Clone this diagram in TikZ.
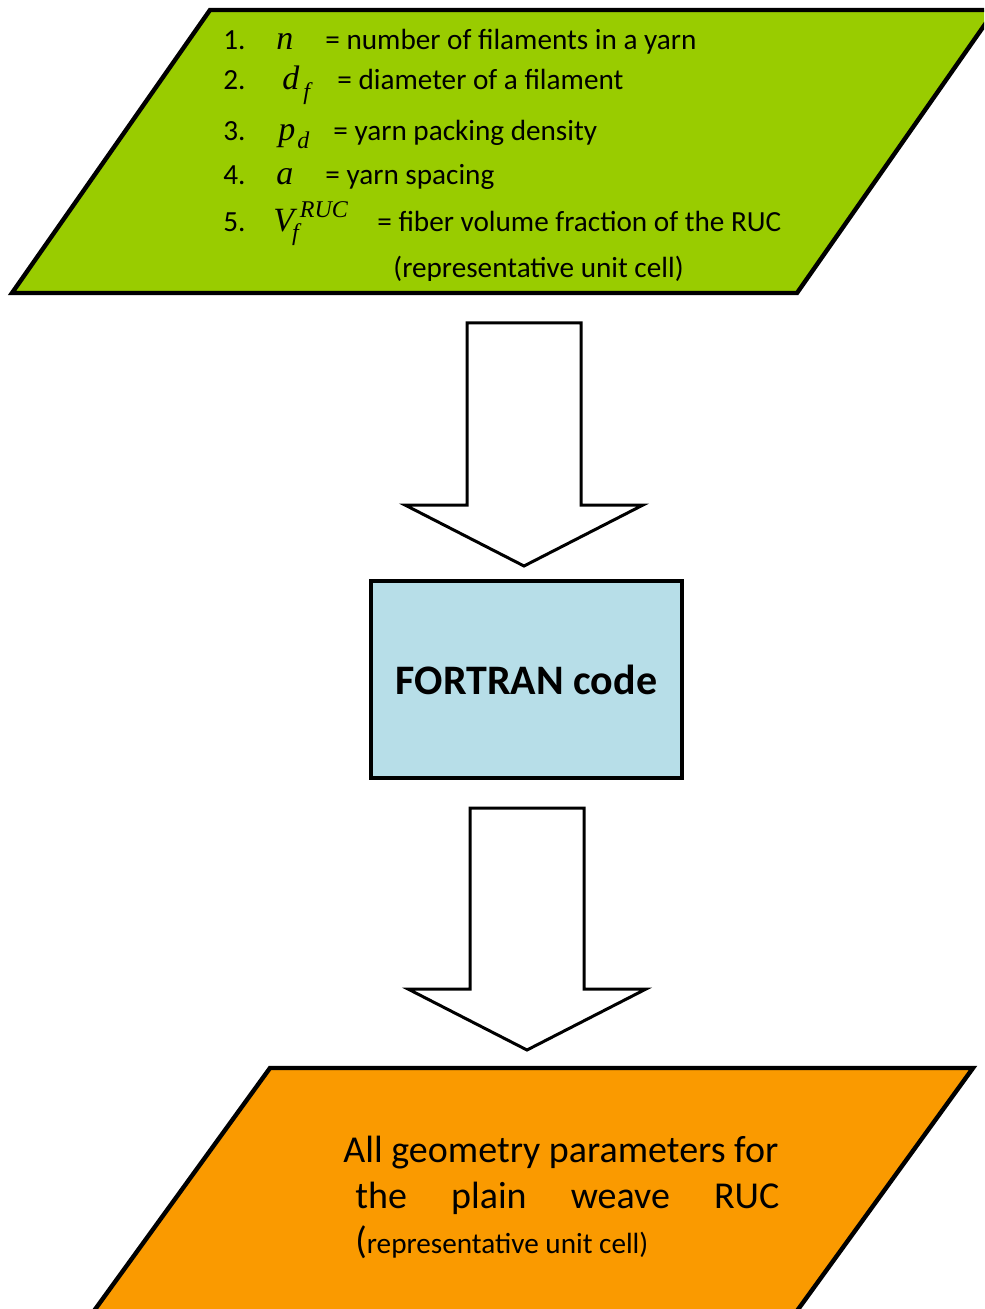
\documentclass[tikz,border=0pt]{standalone}
\usepackage{fontspec}
\setmainfont{Carlito}
\newfontfamily\varfont{Liberation Serif}
\usetikzlibrary{calc}
\definecolor{inputgreen}{HTML}{99CC00}
\definecolor{codeblue}{HTML}{B7DEE8}
\definecolor{outputorange}{HTML}{FA9A00}
\tikzset{
  inputbox/.style={draw=black, fill=inputgreen, line width=2.2pt, line join=miter},
  outputbox/.style={draw=black, fill=outputorange, line width=2.2pt, line join=miter},
  codebox/.style={draw=black, fill=codeblue, line width=2pt, minimum width=155.5pt, minimum height=98.5pt, font=\fontsize{21}{25}\selectfont\bfseries},
  arrowbody/.style={draw=black, fill=white, line width=1.5pt, line join=miter},
  listtext/.style={anchor=base west, inner sep=0pt, font=\fontsize{14.6}{17}\selectfont},
  vartext/.style={anchor=base west, inner sep=0pt, font=\fontsize{17}{20}\varfont\itshape},
  outtext/.style={anchor=base west, inner sep=0pt, font=\fontsize{19}{23}\selectfont}
}
% italic index, lowered (#1 negative) or raised
\newcommand{\vidx}[2]{\raisebox{#1}{\fontsize{12}{14}\selectfont #2}}
\newcommand{\blockarrow}[2]{
  % block arrow from #1 down to its tip #2
  \draw[arrowbody] ($(#1)+(-57,0)$) -- ($(#2)+(-57,-61)$) -- ($(#2)+(-119,-61)$) -- (#2)
    -- ($(#2)+(119,-61)$) -- ($(#2)+(57,-61)$) -- ($(#1)+(57,0)$) -- cycle;
}

\begin{document}
\begin{tikzpicture}[x=0.5pt, y=-0.5pt]
\clip (0,0) rectangle (984,1309);

% input parallelogram
\draw[inputbox] (210,10) -- (995,10) -- (797,293) -- (12,293) -- cycle;
\node[listtext] (n1) at (223,50) {1.};
\node[vartext] (v1) at (276,50) {n};
\node[listtext] (t1) at (325,50) {= number of filaments in a yarn};
\node[listtext] (n2) at (223,90) {2.};
\node[vartext] (v2) at (282,90) {d\hspace{2pt}\vidx{-5pt}{f}};
\node[listtext] (t2) at (337,90) {= diameter of a filament};
\node[listtext] (n3) at (223,141) {3.};
\node[vartext] (v3) at (278,141) {p\hspace{1pt}\vidx{-4pt}{d}};
\node[listtext] (t3) at (333,141) {= yarn packing density};
\node[listtext] (n4) at (223,185) {4.};
\node[vartext] (v4) at (276,185) {a};
\node[listtext] (t4) at (325,185) {= yarn spacing};
\node[listtext] (n5) at (223,232) {5.};
\node[vartext] (v5) at (273,232) {V\hspace{-1pt}\vidx{-4.5pt}{f}\hspace{0.5pt}\vidx{7pt}{RUC}};
\node[listtext] (t5) at (377,232) {= fiber volume fraction of the RUC};
\begin{scope}
  \clip (0,0) rectangle (984,281);
  \node[listtext] (t6) at (393,278) {(representative unit cell)};
\end{scope}

% arrows and code box
\coordinate (a1top) at (524,323);
\coordinate (a1tip) at (524,566);
\blockarrow{a1top}{a1tip}

\node[codebox] (code) at (526.5,679.5) {FORTRAN code};

\coordinate (a2top) at (527,808);
\coordinate (a2tip) at (527,1050);
\blockarrow{a2top}{a2tip}

% output parallelogram
\draw[outputbox] (270,1068) -- (973,1068) -- (794,1315) -- (91,1315) -- cycle;
\node[outtext] (o1) at (343,1162) {All geometry parameters for};
\node[outtext] (o2) at (355,1208) {\makebox[212pt][s]{the\hfill plain\hfill weave\hfill RUC}};
\node[outtext] (o3) at (355,1253) {(\fontsize{14.6}{17}\selectfont representative unit cell)};
\end{tikzpicture}
\end{document}
